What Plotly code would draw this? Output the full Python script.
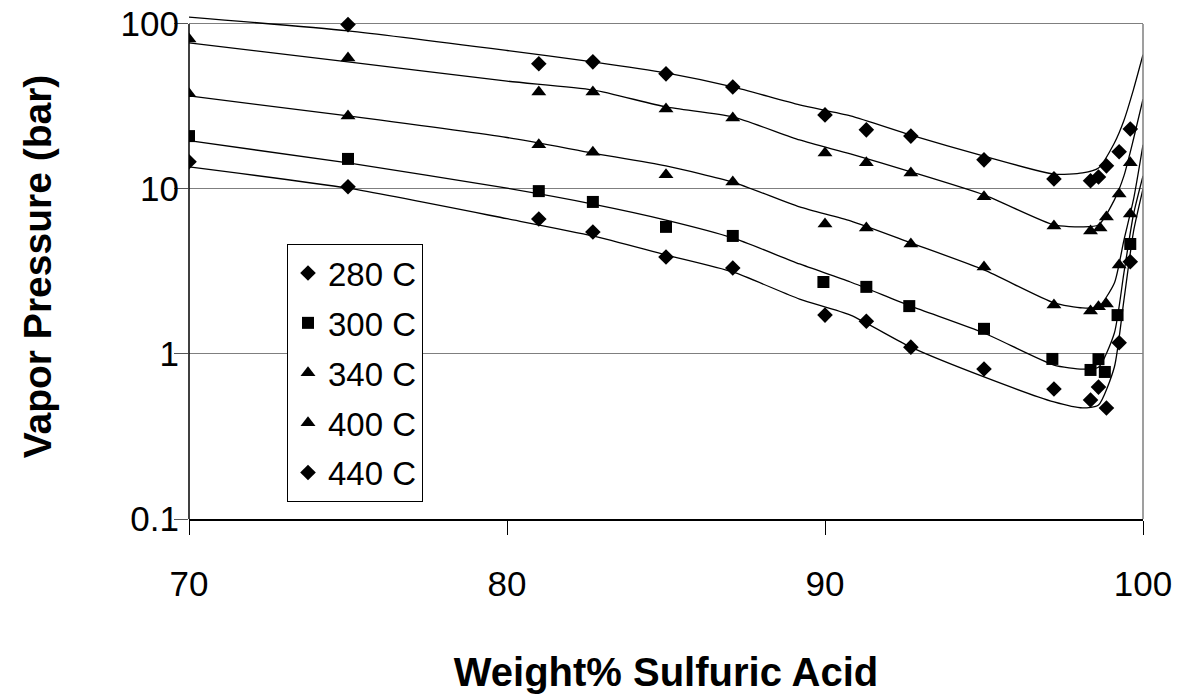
import plotly.graph_objects as go

# ---- measured points ----
x280 = [70, 75, 81.0, 82.7, 85.0, 87.1, 90.0, 91.3, 92.7, 95.0, 97.2, 98.35, 98.6, 98.85, 99.25, 99.6]
y280 = [14.6, 10.3, 6.58, 5.48, 3.87, 3.32, 1.72, 1.58, 1.10, 0.81, 0.614, 0.526, 0.63, 0.471, 1.17, 3.62]

x300 = [70, 75, 81.0, 82.7, 85.0, 87.1, 89.95, 91.3, 92.65, 95.0, 97.15, 98.35, 98.6, 98.8, 99.2, 99.6]
y300 = [20.9, 15.2, 9.7, 8.34, 5.89, 5.19, 2.73, 2.55, 1.95, 1.42, 0.933, 0.80, 0.93, 0.778, 1.72, 4.64]

x340 = [70, 75, 81.0, 82.7, 85.0, 87.1, 90.0, 91.3, 92.7, 95.0, 97.2, 98.35, 98.6, 98.85, 99.25, 99.6]
y340 = [37.7, 27.7, 18.5, 16.7, 12.2, 11.0, 6.14, 5.8, 4.64, 3.37, 1.98, 1.82, 1.93, 2.01, 3.46, 7.05]

x400 = [70, 75, 81.0, 82.7, 85.0, 87.1, 90.0, 91.3, 92.7, 95.0, 97.2, 98.35, 98.65, 98.85, 99.25, 99.6]
y400 = [81, 62.2, 38.7, 38.7, 30.5, 26.9, 16.5, 14.4, 12.5, 8.96, 5.97, 5.56, 5.8, 6.76, 9.33, 14.4]

x440 = [75, 81.0, 82.7, 85.0, 87.1, 90.0, 91.3, 92.7, 95.0, 97.2, 98.35, 98.6, 98.85, 99.25, 99.6]
y440 = [99, 57.3, 58.9, 49.8, 41.5, 28.1, 22.8, 20.9, 15.0, 11.5, 11.2, 11.8, 13.8, 16.8, 23.1]

# ---- model curves ----
x_curve = [70, 75, 80, 82.7, 85, 87.1, 89.2, 90.8, 92.7, 95, 97.2, 98.1, 98.6, 99.1, 99.4, 99.7, 100]
c440 = [110, 90.7, 69, 58.9, 50.5, 41.5, 32.3, 27.7, 21.2, 15.8, 12.3, 12.5, 13.4, 19.0, 26, 40, 65]
c400 = [76.8, 58.9, 45, 39.8, 31.4, 27.3, 19.8, 16.3, 12.7, 9.2, 6.05, 5.89, 6.05, 8.58, 12, 20, 35]
c340 = [36.6, 27.7, 20.5, 16.5, 13.8, 11.0, 7.78, 6.4, 4.71, 3.23, 2.04, 1.90, 1.93, 2.69, 4.9, 8.6, 18.5]
c300 = [19.6, 14.4, 10.1, 8.1, 6.48, 5.05, 3.51, 2.73, 1.95, 1.34, 0.857, 0.81, 0.83, 1.34, 3.1, 7.0, 12]
c280 = [13.6, 10.1, 6.6, 5.19, 3.98, 3.14, 2.15, 1.72, 1.10, 0.726, 0.512, 0.471, 0.49, 0.834, 2.12, 5.5, 10]

series_names = ["280 C", "300 C", "340 C", "400 C", "440 C"]
x_ticks = [70, 80, 90, 100]
y_ticks = [0.1, 1, 10, 100]
y_tick_text = ["0.1", "1", "10", "100"]

FONT = "Liberation Sans, Arial, sans-serif"

fig = go.Figure()

for yc in [c280, c300, c340, c400, c440]:
    fig.add_trace(go.Scatter(x=x_curve, y=yc, mode="lines", showlegend=False,
                             line=dict(color="black", width=1.3, shape="spline", smoothing=0.6),
                             hoverinfo="skip"))

pts = [(x280, y280, "diamond", 12), (x300, y300, "square", 12),
       (x340, y340, "triangle-up", 13), (x400, y400, "triangle-up", 13),
       (x440, y440, "diamond", 12)]
for i, (xs, ys, sym, sz) in enumerate(pts):
    fig.add_trace(go.Scatter(x=xs, y=ys, mode="markers", name=series_names[i],
                             legendgroup=f"g{i}",
                             marker=dict(symbol=sym, size=sz, color="black")))

top_frac = 3 / 3.06

fig.update_layout(
    width=1190, height=698,
    margin=dict(l=189, r=47, t=14, b=179, autoexpand=False),
    paper_bgcolor="white", plot_bgcolor="white",
    font=dict(family=FONT, color="black", size=35),
    showlegend=True,
    legend=dict(x=(287 - 189) / 954, y=(519 - 244) / 505, xanchor="left", yanchor="top",
                bordercolor="black", borderwidth=1, bgcolor="white",
                font=dict(size=33, family=FONT), tracegroupgap=4,
                itemwidth=30),
    xaxis=dict(range=[70, 100], tickvals=x_ticks, ticks="outside", ticklen=14,
               tickcolor="black", showgrid=False, zeroline=False, automargin=False,
               showline=True, linecolor="black", linewidth=1.5,
               tickfont=dict(size=35), ticklabelstandoff=19,
               title=dict(text="<b>Weight% Sulfuric Acid</b>", font=dict(size=40), standoff=56)),
    yaxis=dict(type="log", range=[-1, 2.06], tickvals=y_ticks, ticktext=y_tick_text,
               ticks="outside", ticklen=14, tickcolor="#555555", automargin=False,
               showgrid=True, gridcolor="#7f7f7f", gridwidth=1,
               showline=False, zeroline=False,
               tickfont=dict(size=35), ticklabelstandoff=-12,
               title=dict(text="<b>Vapor Pressure (bar)</b>", font=dict(size=39), standoff=56)),
    shapes=[
        dict(type="line", xref="paper", yref="paper", x0=0, x1=0, y0=0, y1=top_frac,
             line=dict(color="black", width=1.5)),
        dict(type="line", xref="paper", yref="paper", x0=1, x1=1, y0=0, y1=top_frac,
             line=dict(color="#7f7f7f", width=1.5)),
    ],
)

fig.write_html("out.html")
